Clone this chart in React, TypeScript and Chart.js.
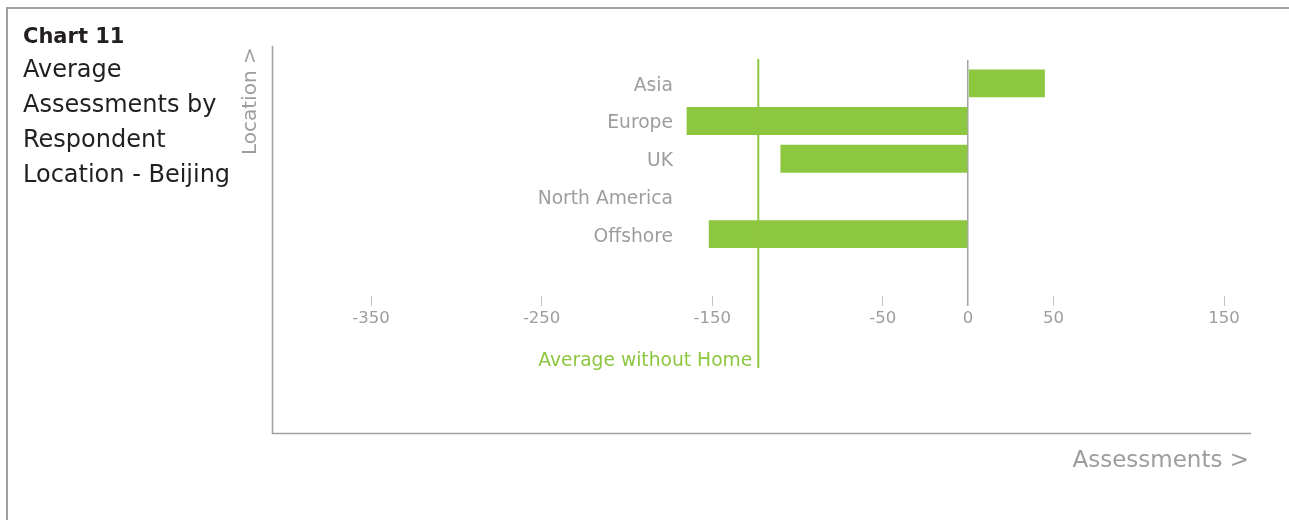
import React, { useEffect, useRef } from 'react';
import { Chart, registerables } from 'chart.js';

Chart.register(...registerables);

// ---- data ----
const categories: string[] = ['Asia', 'Europe', 'UK', 'North America', 'Offshore'];
const assessments: (number | null)[] = [45, -165, -110, null, -152];
const averageWithoutHome = -123;
const xTickValues: number[] = [-350, -250, -150, -50, 0, 50, 150];
const chartNumber = 'Chart 11';
const titleLines: string[] = ['Average', 'Assessments by', 'Respondent', 'Location - Beijing'];
const averageLabel = 'Average without Home';
const xAxisTitle = 'Assessments >';
const yAxisTitle = 'Location >';

// ---- styles ----
const FONT = "'DejaVu Sans', sans-serif";
const GRAY_TEXT = '#9d9d9f';
const GRAY_LINE = '#a0a0a2';
const GREEN = '#8dc63f';
const DARK = '#231f20';

const decorPlugin = {
  id: 'decor',
  afterDatasetsDraw(chart: any) {
    const { ctx, chartArea, scales } = chart;
    const xs = scales.x;
    ctx.save();
    // average line
    const ax = xs.getPixelForValue(averageWithoutHome);
    ctx.strokeStyle = GREEN;
    ctx.lineWidth = 2;
    ctx.beginPath();
    ctx.moveTo(ax, chartArea.top - 1);
    ctx.lineTo(ax, 368);
    ctx.stroke();
    ctx.fillStyle = GREEN;
    ctx.font = `18.7px ${FONT}`;
    ctx.textAlign = 'right';
    ctx.textBaseline = 'middle';
    ctx.fillText(averageLabel, ax - 6, 361);
    ctx.restore();
  },
  afterDraw(chart: any) {
    const { ctx } = chart;
    ctx.save();
    // outer frame (top + left)
    ctx.strokeStyle = GRAY_LINE;
    ctx.lineWidth = 2;
    ctx.beginPath();
    ctx.moveTo(7, 520);
    ctx.lineTo(7, 8);
    ctx.lineTo(1289, 8);
    ctx.stroke();

    // axes frame
    ctx.lineWidth = 1.6;
    ctx.strokeStyle = GRAY_LINE;
    ctx.beginPath();
    ctx.moveTo(272.5, 46);
    ctx.lineTo(272.5, 433.5);
    ctx.lineTo(1251, 433.5);
    ctx.stroke();

    // title
    ctx.fillStyle = DARK;
    ctx.textAlign = 'left';
    ctx.textBaseline = 'alphabetic';
    ctx.font = `bold 21px ${FONT}`;
    ctx.fillText(chartNumber, 23, 43);
    ctx.font = `24px ${FONT}`;
    titleLines.forEach((line, i) => {
      ctx.fillText(line, 23, 77 + i * 35);
    });

    // axis titles
    ctx.fillStyle = GRAY_TEXT;
    ctx.font = `23px ${FONT}`;
    ctx.textAlign = 'right';
    ctx.fillText(xAxisTitle, 1249, 467);

    ctx.save();
    ctx.translate(256, 155);
    ctx.rotate(-Math.PI / 2);
    ctx.font = `20px ${FONT}`;
    ctx.textAlign = 'left';
    ctx.fillText(yAxisTitle, 0, 0);
    ctx.restore();

    ctx.restore();
  },
};

export default function App() {
  const ref = useRef<HTMLCanvasElement>(null);

  useEffect(() => {
    if (!ref.current) return;
    const chart = new Chart(ref.current, {
      type: 'bar',
      data: {
        datasets: [
          {
            label: 'Assessments',
            data: assessments.map((v, i) => ({ x: v, y: i })) as any,
            backgroundColor: GREEN,
            borderWidth: 0,
            categoryPercentage: 1,
            barPercentage: 0.74,
          },
        ],
      },
      options: {
        animation: false,
        responsive: false,
        indexAxis: 'y',
        layout: { padding: { left: 371, right: 65, top: 60, bottom: 184 } },
        plugins: {
          legend: { display: false },
          tooltip: { enabled: false },
          title: { display: false },
        },
        scales: {
          x: {
            type: 'linear',
            position: 'bottom',
            min: -350,
            max: 150,
            afterBuildTicks: (s: any) => {
              s.ticks = xTickValues.map((v) => ({ value: v }));
            },
            afterFit: (s: any) => {
              s.height = 40;
            },
            border: { display: false },
            grid: {
              color: (c: any) => (c.tick && c.tick.value === 0 ? '#a3a3a5' : 'rgba(0,0,0,0)'),
              lineWidth: (c: any) => (c.tick && c.tick.value === 0 ? 1.5 : 1),
              tickColor: (c: any) => (c.tick && c.tick.value === 0 ? '#a3a3a5' : '#c4c4c6'),
              tickLength: 10,
            },
            ticks: {
              color: GRAY_TEXT,
              font: { family: FONT, size: 16.5 },
              padding: 3,
              autoSkip: false,
              maxRotation: 0,
              callback: (v: any) => String(v),
            },
          },
          y: {
            type: 'linear',
            reverse: true,
            offset: false,
            min: -0.62,
            max: 5.64,
            // category labels sit inside the plot, right-aligned at x = -173
            position: { x: -173 } as any,
            afterBuildTicks: (s: any) => {
              s.ticks = categories.map((_, i) => ({ value: i }));
            },
            grid: { display: false, offset: false },
            border: { display: false },
            ticks: {
              color: GRAY_TEXT,
              font: { family: FONT, size: 18.7 },
              padding: 0,
              labelOffset: 2.5,
              autoSkip: false,
              callback: (v: any) => categories[v as number] ?? '',
            },
          },
        },
      } as any,
      plugins: [decorPlugin],
    });
    return () => chart.destroy();
  }, []);

  return (
    <div style={{ position: 'fixed', left: 0, top: 0, width: 1289, height: 520, background: '#fff' }}>
      <canvas ref={ref} width={1289} height={520} style={{ display: 'block' }} />
    </div>
  );
}
